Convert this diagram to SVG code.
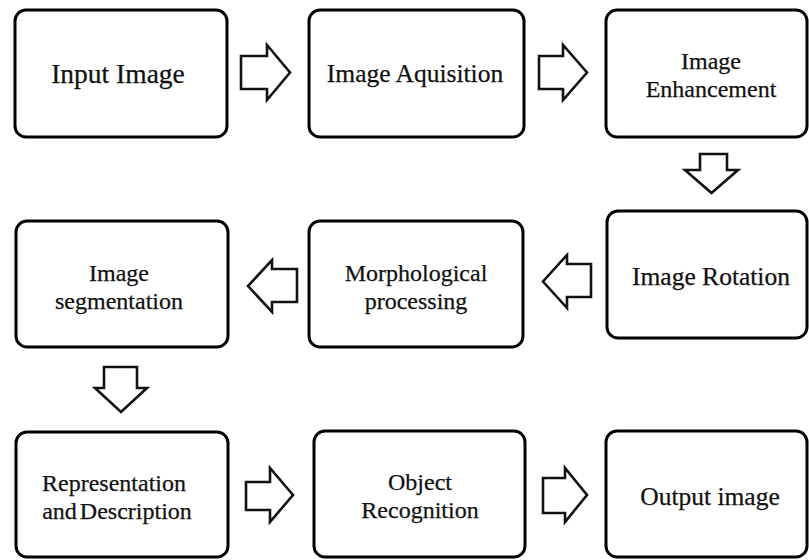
<svg xmlns="http://www.w3.org/2000/svg" width="809" height="560" viewBox="0 0 809 560">
<defs>
<style>
.box{fill:#fff;stroke:#000;stroke-width:3}
.arr{fill:#fff;stroke:#111;stroke-width:2.6;stroke-linejoin:miter}
text{font-family:'Liberation Serif','Times New Roman',serif;font-size:25.5px;fill:#111;stroke:#111;stroke-width:0.25;text-anchor:middle}
text.m{font-size:24px}
</style>
</defs>
<rect width="809" height="560" fill="#fff"/>
<g id="n1"><rect class="box" x="15" y="10" width="212" height="127" rx="11"/><text x="118" y="83" style="font-size:27.5px">Input Image</text></g>
<g id="n2"><rect class="box" x="309" y="10" width="215" height="127" rx="11"/><text x="415" y="82">Image Aquisition</text></g>
<g id="n3"><rect class="box" x="606" y="10" width="201" height="127" rx="11"/><text class="m" x="711" y="69">Image</text><text class="m" x="711" y="96.5">Enhancement</text></g>
<g id="n4"><rect class="box" x="607" y="211" width="200" height="127" rx="11"/><text x="711" y="285">Image Rotation</text></g>
<g id="n5"><rect class="box" x="309" y="221" width="214" height="126" rx="11"/><text class="m" x="416" y="281">Morphological</text><text class="m" x="416" y="308.5">processing</text></g>
<g id="n6"><rect class="box" x="16" y="221" width="212" height="126" rx="11"/><text class="m" x="119" y="281">Image</text><text class="m" x="119" y="308.5">segmentation</text></g>
<g id="n7"><rect class="box" x="16" y="432" width="212" height="125" rx="11"/><text class="m" x="114" y="491">Representation</text><text class="m" x="117" y="518.5" word-spacing="-3">and Description</text></g>
<g id="n8"><rect class="box" x="314" y="431" width="211" height="126" rx="11"/><text class="m" x="420" y="490">Object</text><text class="m" x="420" y="518">Recognition</text></g>
<g id="n9"><rect class="box" x="606" y="431" width="201" height="126" rx="11"/><text x="710" y="505">Output image</text></g>
<g id="connectors">
<polygon class="arr" points="241,56 267,56 267,45 290,72.5 267,100 267,89 241,89"/>
<polygon class="arr" points="539,56 563,56 563,45 587,72.5 563,100 563,89 539,89"/>
<polygon class="arr" points="700,154 727,154 727,170 738,170 711.5,193 685,170 700,170"/>
<polygon class="arr" points="591,264 567,264 567,255 543,281.5 567,308 567,297 591,297"/>
<polygon class="arr" points="297,269 272,269 272,260 248,286 272,312 272,302 297,302"/>
<polygon class="arr" points="104,367 137,367 137,388 147,388 121,412 95,388 104,388"/>
<polygon class="arr" points="246,482 270,482 270,468 293,495 270,522 270,510 246,510"/>
<polygon class="arr" points="543,478 565,478 565,468 587,495 565,522 565,513 543,513"/>
</g>
</svg>
